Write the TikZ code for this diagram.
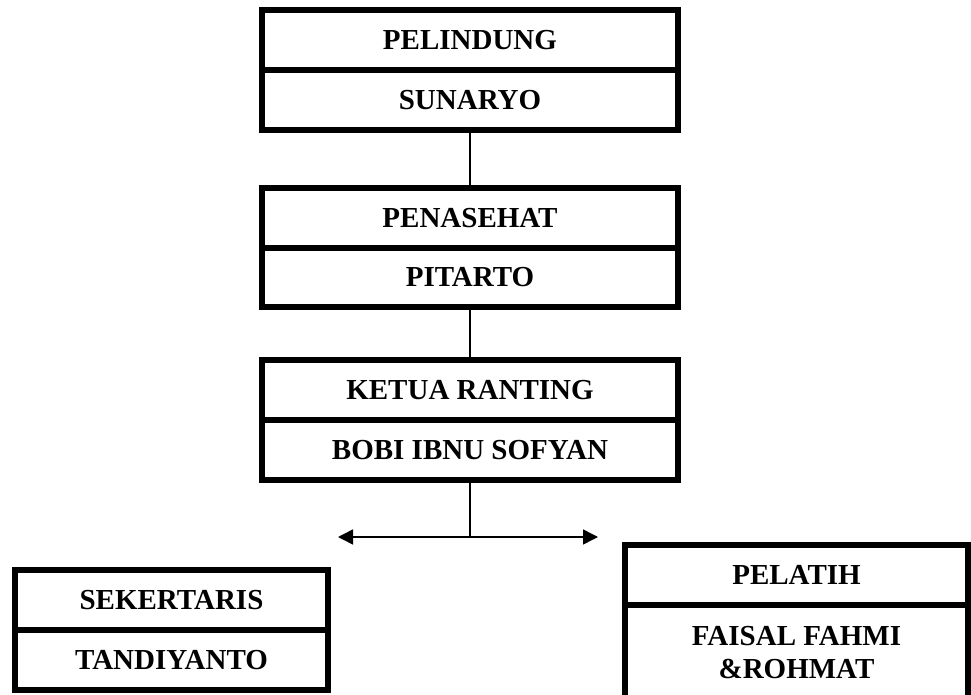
\documentclass[tikz,border=0pt]{standalone}
\usepackage{fontspec}
\setmainfont{Liberation Serif}
\usetikzlibrary{arrows.meta}
\begin{document}
\begin{tikzpicture}[x=1pt,y=-1pt,
  cell/.style={draw=black, line width=6pt, rectangle, inner sep=0pt, outer sep=0pt,
    align=center, font=\fontsize{29}{33}\selectfont\bfseries},
  topcell/.style={cell, minimum width=416pt, minimum height=60pt},
  leftcell/.style={cell, minimum width=313pt, minimum height=60pt},
  link/.style={draw=black, line width=1.5pt}]
\useasboundingbox (0,0) rectangle (971,695);
\clip (0,0) rectangle (971,695);
% top chain
\node[topcell] (pel) at (470,40) {PELINDUNG};
\node[topcell] (sun) at (470,100) {SUNARYO};
\node[topcell, minimum height=60pt] (pen) at (470,218) {PENASEHAT};
\node[topcell, minimum height=59pt] (pit) at (470,277.5) {PITARTO};
\node[topcell] (ket) at (470,390) {KETUA RANTING};
\node[topcell] (bob) at (470,450) {BOBI IBNU SOFYAN};
% bottom left
\node[leftcell] (sek) at (171.5,600) {SEKERTARIS};
\node[leftcell] (tan) at (171.5,660) {TANDIYANTO};
% bottom right
\node[cell, minimum width=343pt, minimum height=60pt] (pla) at (796.5,575) {PELATIH};
\node[cell, minimum width=343pt, minimum height=95pt] (fai) at (796.5,652.5) {FAISAL FAHMI\\\&ROHMAT};
% connectors
\draw[link] (sun.south) -- (pen.north);
\draw[link] (pit.south) -- (ket.north);
\coordinate (j) at (470,537);
\coordinate (aL) at (338,537);
\coordinate (aR) at (598,537);
\draw[link] (bob.south) -- (j);
\draw[link, {Triangle[length=15pt,width=15pt]}-{Triangle[length=15pt,width=15pt]}] (aL) -- (aR);
\end{tikzpicture}
\end{document}
